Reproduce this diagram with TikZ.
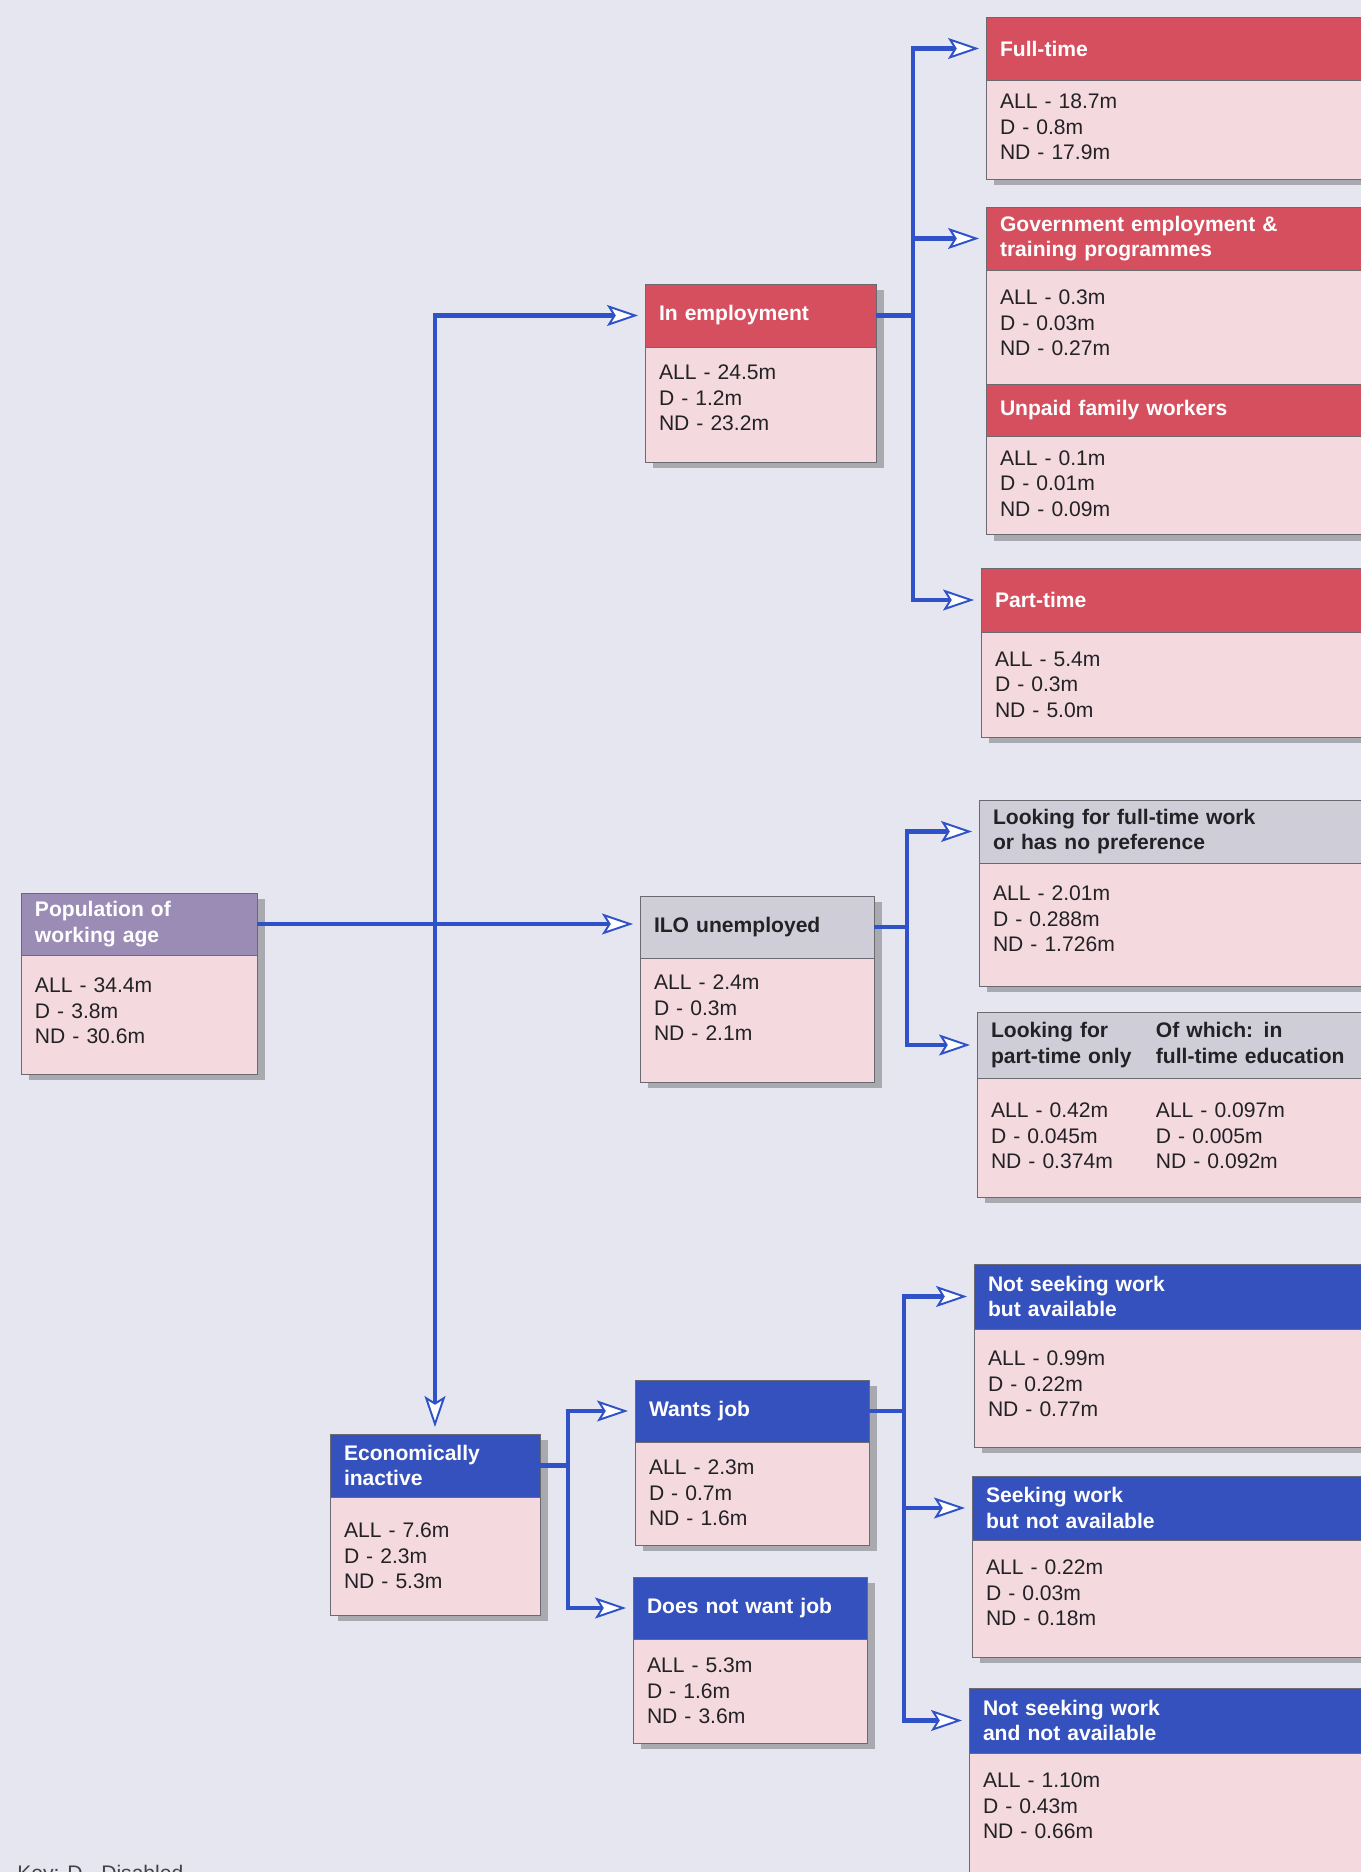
\documentclass[tikz,border=0pt]{standalone}
\usepackage{fontspec}
\setmainfont{Liberation Sans}
\usetikzlibrary{positioning,shadows,arrows.meta}

\definecolor{paper}{HTML}{E5E6EF}
\definecolor{hdrred}{HTML}{D64F5E}
\definecolor{hdrblue}{HTML}{3551BD}
\definecolor{hdrgrey}{HTML}{CFCDD8}
\definecolor{hdrpurple}{HTML}{9B8CB6}
\definecolor{bodypink}{HTML}{F4DADF}
\definecolor{linkblue}{HTML}{2F52C9}
\definecolor{shadegrey}{HTML}{A9AAB0}
\definecolor{rimgrey}{HTML}{6A6A70}
\definecolor{ink}{HTML}{222226}

% body figures: fixed height, text from the top
\newcommand{\nums}[3][0.4cm]{\parbox[c][#2][t]{\linewidth}{\vspace*{#1}#3}}

\begin{document}
\begin{tikzpicture}[x=0.02cm,y=-0.02cm]
    \tikzstyle{panel}=[draw=rimgrey, line width=0.5pt, outer sep=0pt, inner xsep=0.28cm, align=left, drop shadow={shadow xshift=0.16cm, shadow yshift=-0.12cm, fill=shadegrey, opacity=1}]
    \tikzstyle{head}=[panel, anchor=north west, inner ysep=0.1cm, font=\bfseries\fontsize{12}{14.5}\selectfont, text=white]
    \tikzstyle{redhead}=[head, fill=hdrred]
    \tikzstyle{bluehead}=[head, fill=hdrblue]
    \tikzstyle{greyhead}=[head, fill=hdrgrey, text=ink]
    \tikzstyle{purplehead}=[head, fill=hdrpurple]
    \tikzstyle{figs}=[panel, fill=bodypink, inner ysep=0pt, text=ink, font=\fontsize{12}{14.4}\selectfont]
    \tikzstyle{wire}=[draw=linkblue, line width=2.6pt]
    \tikzstyle{link}=[wire, shorten >=0.14cm, -{Stealth[open, fill=white, length=0.62cm, width=0.42cm, inset=0.13cm, line width=1.1pt]}]

    \fill[paper] (0,0) rectangle (1361,1872);
    \useasboundingbox (0,0) rectangle (1361,1872);

    % left and middle column
    \node[purplehead, text width=4.16cm, minimum height=1.24cm] (pop-h) at (21,893) {Population of\\working age};
    \node[figs, text width=4.16cm, below=0pt of pop-h] (pop) {\nums[0.46cm]{2.38cm}{ALL - 34.4m\\D - 3.8m\\ND - 30.6m}};

    \node[redhead, text width=4.06cm, minimum height=1.26cm] (emp-h) at (645,284) {In employment};
    \node[figs, text width=4.06cm, below=0pt of emp-h] (emp) {\nums[0.36cm]{2.30cm}{ALL - 24.5m\\D - 1.2m\\ND - 23.2m}};

    \node[greyhead, text width=4.12cm, minimum height=1.24cm] (ilo-h) at (640,896) {ILO unemployed};
    \node[figs, text width=4.12cm, below=0pt of ilo-h] (ilo) {\nums[0.34cm]{2.48cm}{ALL - 2.4m\\D - 0.3m\\ND - 2.1m}};

    \node[bluehead, text width=3.64cm, minimum height=1.26cm] (inact-h) at (330,1434) {Economically\\inactive};
    \node[figs, text width=3.64cm, below=0pt of inact-h] (inact) {\nums[0.52cm]{2.36cm}{ALL - 7.6m\\D - 2.3m\\ND - 5.3m}};

    \node[bluehead, text width=4.12cm, minimum height=1.24cm] (want-h) at (635,1380) {Wants job};
    \node[figs, text width=4.12cm, below=0pt of want-h] (want) {\nums[0.36cm]{2.06cm}{ALL - 2.3m\\D - 0.7m\\ND - 1.6m}};

    \node[bluehead, text width=4.12cm, minimum height=1.24cm] (nowant-h) at (633,1577) {Does not want job};
    \node[figs, text width=4.12cm, below=0pt of nowant-h] (nowant) {\nums[0.38cm]{2.08cm}{ALL - 5.3m\\D - 1.6m\\ND - 3.6m}};

    % right column
    \node[redhead, text width=7.22cm, minimum height=1.26cm] (ft-h) at (986,17) {Full-time};
    \node[figs, text width=7.22cm, below=0pt of ft-h] (ft) {\nums[0.28cm]{1.98cm}{ALL - 18.7m\\D - 0.8m\\ND - 17.9m}};

    \node[redhead, text width=7.22cm, minimum height=1.26cm] (gov-h) at (986,207) {Government employment \&\\training programmes};
    \node[figs, text width=7.22cm, below=0pt of gov-h] (gov) {\nums{2.28cm}{ALL - 0.3m\\D - 0.03m\\ND - 0.27m}};
    \node[redhead, text width=7.22cm, minimum height=1.04cm, below=0pt of gov] (unpaid-h) {Unpaid family workers};
    \node[figs, text width=7.22cm, below=0pt of unpaid-h] (unpaid) {\nums[0.3cm]{1.98cm}{ALL - 0.1m\\D - 0.01m\\ND - 0.09m}};

    \node[redhead, text width=7.32cm, minimum height=1.28cm] (pt-h) at (981,568) {Part-time};
    \node[figs, text width=7.32cm, below=0pt of pt-h] (pt) {\nums{2.10cm}{ALL - 5.4m\\D - 0.3m\\ND - 5.0m}};

    \node[greyhead, text width=7.36cm, minimum height=1.26cm] (lft-h) at (979,800) {Looking for full-time work\\or has no preference};
    \node[figs, text width=7.36cm, below=0pt of lft-h] (lft) {\nums[0.46cm]{2.46cm}{ALL - 2.01m\\D - 0.288m\\ND - 1.726m}};

    \node[greyhead, text width=7.40cm, minimum height=1.32cm] (lpt-h) at (977,1012) {\makebox[3.3cm][l]{Looking for}Of which: in\\\makebox[3.3cm][l]{part-time only}full-time education};
    \node[figs, text width=7.40cm, below=0pt of lpt-h] (lpt) {\nums[0.5cm]{2.38cm}{\makebox[3.3cm][l]{ALL - 0.42m}ALL - 0.097m\\\makebox[3.3cm][l]{D - 0.045m}D - 0.005m\\\makebox[3.3cm][l]{ND - 0.374m}ND - 0.092m}};

    \node[bluehead, text width=7.46cm, minimum height=1.30cm] (nsa-h) at (974,1264) {Not seeking work\\but available};
    \node[figs, text width=7.46cm, below=0pt of nsa-h] (nsa) {\nums[0.44cm]{2.36cm}{ALL - 0.99m\\D - 0.22m\\ND - 0.77m}};

    \node[bluehead, text width=7.50cm, minimum height=1.28cm] (sna-h) at (972,1476) {Seeking work\\but not available};
    \node[figs, text width=7.50cm, below=0pt of sna-h] (sna) {\nums{2.34cm}{ALL - 0.22m\\D - 0.03m\\ND - 0.18m}};

    \node[bluehead, text width=7.56cm, minimum height=1.30cm] (nsna-h) at (969,1688) {Not seeking work\\and not available};
    \node[figs, text width=7.56cm, below=0pt of nsna-h] (nsna) {\nums{2.8cm}{ALL - 1.10m\\D - 0.43m\\ND - 0.66m}};

    \node[anchor=base west, inner sep=0pt, text=ink!85, font=\fontsize{12}{14}\selectfont] (key) at (17,1880) {Key: D - Disabled};

    % connectors
    \coordinate (hub) at (inact-h.north |- pop-h.east);
    \draw[link] (pop-h.east) -- (pop-h.east -| ilo-h.west);
    \draw[link] (hub) |- (emp-h.west);
    \draw[link] (hub) -- (inact-h.north);

    \coordinate[right=0.74cm of emp-h] (emp-fork);
    \draw[wire] (emp-h.east) -- (emp-fork);
    \draw[link] (emp-fork) |- (ft-h.west);
    \draw[link] (emp-fork) |- (gov-h.west);
    \draw[link] (emp-fork) |- (pt-h.west);

    \coordinate[right=0.66cm of ilo-h] (ilo-fork);
    \draw[wire] (ilo-h.east) -- (ilo-fork);
    \draw[link] (ilo-fork) |- (lft-h.west);
    \draw[link] (ilo-fork) |- (lpt-h.west);

    \coordinate[right=0.56cm of inact-h] (inact-fork);
    \draw[wire] (inact-h.east) -- (inact-fork);
    \draw[link] (inact-fork) |- (want-h.west);
    \draw[link] (inact-fork) |- (nowant-h.west);

    \coordinate[right=0.7cm of want-h] (want-fork);
    \draw[wire] (want-h.east) -- (want-fork);
    \draw[link] (want-fork) |- (nsa-h.west);
    \draw[link] (want-fork) |- (sna-h.west);
    \draw[link] (want-fork) |- (nsna-h.west);
\end{tikzpicture}
\end{document}
